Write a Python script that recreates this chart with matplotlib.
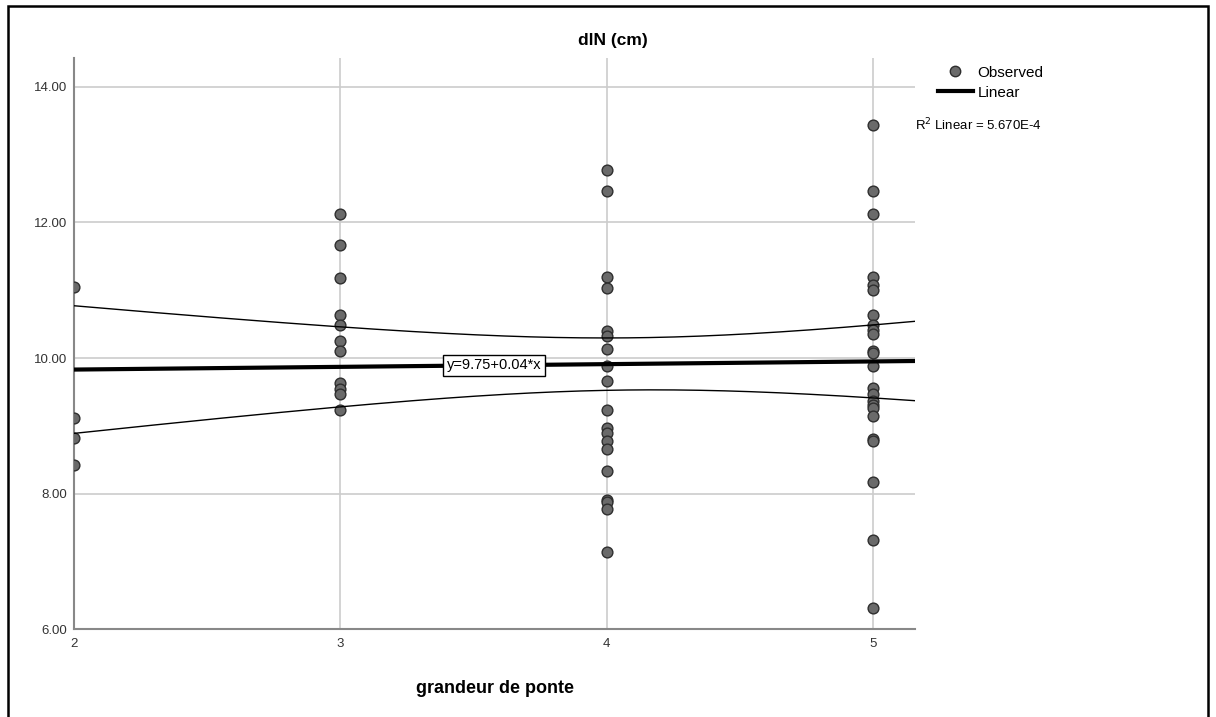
import numpy as np
import matplotlib.pyplot as plt
from matplotlib.lines import Line2D
from matplotlib.patches import Rectangle

plt.rcParams['font.family'] = ['Liberation Sans', 'DejaVu Sans']

# --- valeurs ---
dln_2 = [11.05, 9.12, 8.82, 8.43]
dln_3 = [12.12, 11.66, 11.18, 10.64, 10.48, 10.25, 10.11, 9.63, 9.54, 9.47, 9.24]
dln_4 = [12.78, 12.46, 11.19, 11.04, 10.40, 10.33, 10.14, 9.88, 9.66, 9.23,
         8.97, 8.90, 8.77, 8.66, 8.34, 7.91, 7.88, 7.77, 7.14]
dln_5 = [13.44, 12.47, 12.12, 11.20, 11.07, 11.00, 10.64, 10.49, 10.42, 10.35,
         10.11, 10.08, 9.88, 9.56, 9.47, 9.36, 9.31, 9.26, 9.15, 8.80,
         8.78, 8.17, 7.32, 6.32]
grandeur = [2, 3, 4, 5]
groupes = [dln_2, dln_3, dln_4, dln_5]

intercept = 9.75
pente = 0.04
r2_txt = "R$^2$ Linear = 5.670E-4"
eq_txt = "y=9.75+0.04*x"

x_obs = np.concatenate([[g] * len(v) for g, v in zip(grandeur, groupes)]).astype(float)
y_obs = np.concatenate(groupes)

# --- droite + intervalle de confiance 95% de la moyenne ---
xmin, xmax = 2.0, 5.158
xx = np.linspace(xmin, xmax, 200)
yy = intercept + pente * xx
n = len(x_obs)
resid = y_obs - (intercept + pente * x_obs)
s = np.sqrt(np.sum(resid**2) / (n - 2))
sxx = np.sum((x_obs - x_obs.mean())**2)
t = 2.003
demi = t * s * np.sqrt(1 / n + (xx - x_obs.mean())**2 / sxx)

fig = plt.figure(figsize=(12.16, 7.17), dpi=100)
ax = fig.add_axes([74 / 1216, 1 - 629.3 / 717, (915 - 74) / 1216, (629.3 - 58.3) / 717])

ax.grid(True, color='#cccccc', linewidth=1.2)
ax.set_axisbelow(True)

ax.scatter(x_obs, y_obs, s=60, color='#6a6a6a', edgecolor='#2e2e2e',
           linewidth=1.0, zorder=3)
ax.plot(xx, yy, color='black', linewidth=3, zorder=4)
ax.plot(xx, yy + demi, color='black', linewidth=1, zorder=4)
ax.plot(xx, yy - demi, color='black', linewidth=1, zorder=4)

ax.text(3.577, intercept + pente * 3.577, eq_txt, fontsize=10.5, ha='center', va='center',
        zorder=5, bbox=dict(boxstyle='square,pad=0.25', facecolor='white',
                            edgecolor='black', linewidth=1))

ax.set_xlim(xmin, xmax)
ax.set_ylim(6, 14.42)
ax.set_xticks(grandeur)
ax.set_yticks([6, 8, 10, 12, 14])
ax.set_yticklabels([f"{v:.2f}" for v in [6, 8, 10, 12, 14]])
ax.tick_params(length=0, labelsize=9.5, colors='#333333', pad=6)
ax.tick_params(axis='y', pad=5)

for side in ['top', 'right']:
    ax.spines[side].set_visible(False)
for side in ['left', 'bottom']:
    ax.spines[side].set_color('#888888')
    ax.spines[side].set_linewidth(1.5)

ax.set_xlabel("grandeur de ponte", fontsize=13, fontweight='bold', labelpad=22)
fig.text(0.504, 1 - 40 / 717, "dlN (cm)", fontsize=12.5, fontweight='bold',
         ha='center', va='center')

handles = [Line2D([], [], marker='o', linestyle='none', markersize=7.5,
                  markerfacecolor='#6a6a6a', markeredgecolor='#2e2e2e'),
           Line2D([], [], color='black', linewidth=3)]
leg = fig.legend(handles, ["Observed", "Linear"], loc='upper left',
                 bbox_to_anchor=(927 / 1216, 1 - 55 / 717), frameon=False,
                 fontsize=11, handlelength=2.3, handletextpad=0.3,
                 labelspacing=0.4, borderpad=0.2)
fig.text(915 / 1216, 1 - 125 / 717, r2_txt, fontsize=9.5, ha='left', va='center')

# cadre extérieur
fig.patches.append(Rectangle((8 / 1216, -0.1), 1200 / 1216, 1.1 - 6 / 717,
                             transform=fig.transFigure, fill=False,
                             edgecolor='black', linewidth=1.8))

fig.savefig("out.png", dpi=100)
